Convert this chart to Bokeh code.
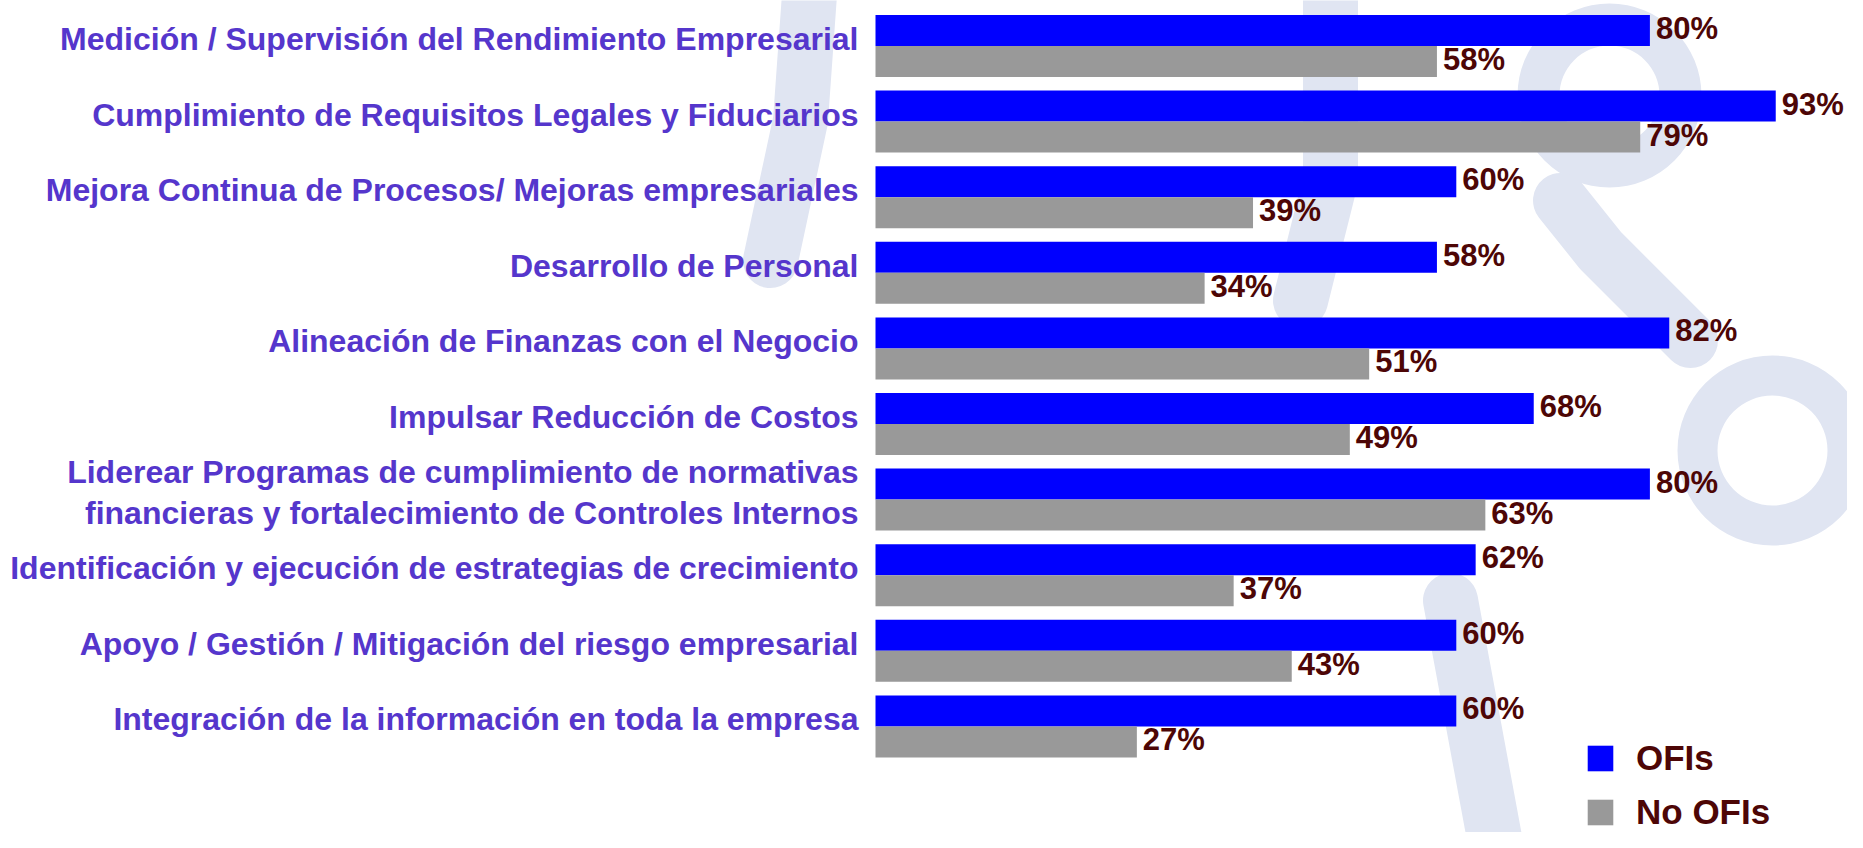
from bokeh.plotting import figure
from bokeh.models import Range1d, Legend, LegendItem, ColumnDataSource
from bokeh.embed import file_html
from bokeh.resources import INLINE
from bokeh.core.properties import value

# ---------------- data ----------------
categories = [
    "Medición / Supervisión del Rendimiento Empresarial",
    "Cumplimiento de Requisitos Legales y Fiduciarios",
    "Mejora Continua de Procesos/ Mejoras empresariales",
    "Desarrollo de Personal",
    "Alineación de Finanzas con el Negocio",
    "Impulsar Reducción de Costos",
    "Liderear Programas de cumplimiento de normativas\nfinancieras y fortalecimiento de Controles Internos",
    "Identificación y ejecución de estrategias de crecimiento",
    "Apoyo / Gestión / Mitigación del riesgo empresarial",
    "Integración de la información en toda la empresa",
]
ofis = [80, 93, 60, 58, 82, 68, 80, 62, 60, 60]
no_ofis = [58, 79, 39, 34, 51, 49, 63, 37, 43, 27]
series_names = ["OFIs", "No OFIs"]

# ---------------- layout ----------------
W, H = 1847, 832
PX = 9.68          # pixels per percent
X0 = 875           # screen x of 0 %
PITCH = 75.6       # pixels per category
C0 = 45.5          # screen y of first category centre
BAR_H = 31.0 / PITCH

x_start = -X0 / PX
x_end = (W - X0) / PX
y_top = -C0 / PITCH
y_bottom = (H - C0) / PITCH

BLUE = "#0000ff"
GRAY = "#999999"
LABEL_COLOR = "#5536cc"
VALUE_COLOR = "#4d0606"
WM = "#e0e5f2"
FONT_NAME = "Liberation Sans"
FONT = value(FONT_NAME)

p = figure(width=W, height=H,
           x_range=Range1d(x_start, x_end),
           y_range=Range1d(y_bottom, y_top),
           output_backend="svg", toolbar_location=None,
           x_axis_location=None, y_axis_location=None,
           min_border=0, min_border_left=0, min_border_right=0,
           min_border_top=0, min_border_bottom=0)
p.grid.visible = False
p.outline_line_color = None
p.background_fill_color = "white"


# ---------------- faint watermark (decoration, screen-pixel helpers) ----------------
def dx(X):
    return (X - X0) / PX


def dy(Y):
    return (Y - C0) / PITCH


p.annulus(x=[dx(1609), dx(1772)], y=[dy(95), dy(450)],
          inner_radius=[50, 55], outer_radius=[92, 95],
          inner_radius_units="screen", outer_radius_units="screen",
          fill_color=WM, line_color=None)
p.multi_line(xs=[[dx(810), dx(800), dx(770)],
                 [dx(1330), dx(1330), dx(1300)],
                 [dx(1450), dx(1500)],
                 [dx(1560), dx(1600), dx(1690)]],
             ys=[[dy(-20), dy(120), dy(260)],
                 [dy(-20), dy(180), dy(300)],
                 [dy(600), dy(870)],
                 [dy(200), dy(250), dy(340)]],
             line_color=WM, line_width=55, line_cap="round")

# ---------------- bars ----------------
idx = list(range(len(categories)))
src = ColumnDataSource(dict(
    y_ofis=[i - BAR_H / 2 for i in idx],
    y_no=[i + BAR_H / 2 for i in idx],
    ofis=ofis, no_ofis=no_ofis,
    t_ofis=[f"{v}%" for v in ofis],
    t_no=[f"{v}%" for v in no_ofis],
    cat=categories, yc=idx, zero=[0] * len(idx),
))

r_ofis = p.hbar(y="y_ofis", left=0, right="ofis", height=BAR_H, source=src,
                fill_color=BLUE, line_color=None)
r_no = p.hbar(y="y_no", left=0, right="no_ofis", height=BAR_H, source=src,
              fill_color=GRAY, line_color=None)

common = dict(text_font=FONT, text_font_style="bold", text_color=VALUE_COLOR,
              text_font_size="31px", text_baseline="middle", text_align="left",
              x_offset=6, y_offset=-2)
p.text(x="ofis", y="y_ofis", text="t_ofis", source=src, **common)
p.text(x="no_ofis", y="y_no", text="t_no", source=src, **common)

# category labels
p.text(x="zero", y="yc", text="cat", source=src,
       text_font=FONT, text_font_style="bold", text_color=LABEL_COLOR,
       text_font_size="32px", text_baseline="middle", text_align="right",
       text_line_height=1.16, x_offset=-17, y_offset=-7)

# ---------------- legend ----------------
legend = Legend(items=[LegendItem(label=series_names[0], renderers=[r_ofis]),
                       LegendItem(label=series_names[1], renderers=[r_no])],
                location=(1584, 0), orientation="vertical",
                glyph_width=32, glyph_height=32, label_height=32,
                spacing=14, padding=0, margin=0, label_standoff=20,
                label_text_font=FONT_NAME, label_text_font_style="bold",
                label_text_font_size="35px", label_text_color=VALUE_COLOR,
                border_line_color=None, background_fill_alpha=0)
p.add_layout(legend)

open("out.html", "w").write(file_html(p, INLINE))
